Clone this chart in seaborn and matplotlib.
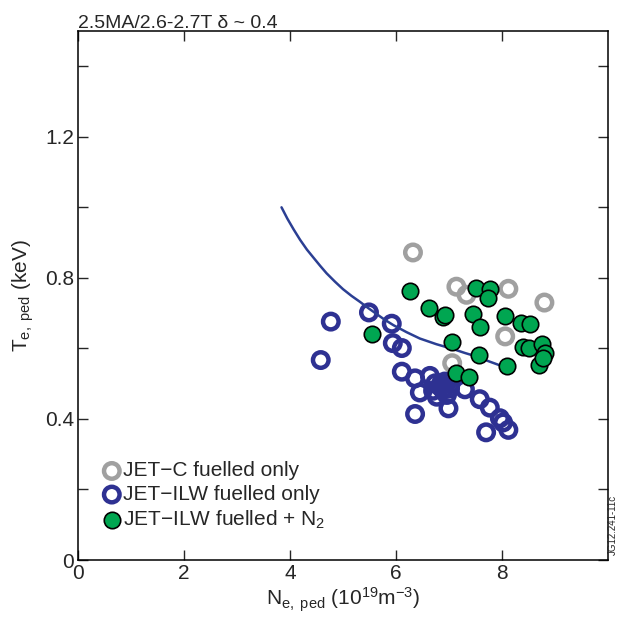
import numpy as np
import matplotlib
matplotlib.use("Agg")
import matplotlib.pyplot as plt
import pandas as pd
import seaborn as sns

# Données (n_e,ped en 1e19 m^-3, T_e,ped en keV)
c_ne = [6.32, 7.14, 7.33, 8.12, 8.80, 8.06, 7.06]
c_te = [0.872, 0.775, 0.752, 0.769, 0.730, 0.634, 0.558]

ilw_ne = [4.58, 4.77, 5.49, 5.92, 5.94, 6.11, 6.11, 6.36, 6.45, 6.36,
          6.64, 6.74, 6.83, 6.92, 7.02, 6.77, 6.96, 6.89, 6.70, 6.99,
          7.30, 7.58, 7.77, 7.96, 8.12, 7.70, 8.02, 6.85, 6.95]
ilw_te = [0.567, 0.676, 0.702, 0.670, 0.615, 0.601, 0.534, 0.515, 0.475, 0.414,
          0.522, 0.501, 0.492, 0.506, 0.487, 0.463, 0.468, 0.482, 0.480, 0.430,
          0.484, 0.456, 0.432, 0.402, 0.369, 0.362, 0.390, 0.500, 0.500]

n2_ne = [6.26, 6.63, 6.89, 6.92, 7.50, 7.77, 7.74, 7.45, 7.58, 8.06,
         8.35, 8.53, 7.06, 7.57, 8.10, 7.14, 7.38, 5.55, 8.40, 8.50,
         8.75, 8.81, 8.70, 8.78]
n2_te = [0.763, 0.714, 0.690, 0.694, 0.771, 0.768, 0.742, 0.698, 0.662, 0.692,
         0.673, 0.669, 0.617, 0.582, 0.550, 0.530, 0.520, 0.641, 0.605, 0.601,
         0.612, 0.588, 0.553, 0.572]

# Courbe (points lus le long du trait)
fit_ne = [3.84, 3.95, 4.07, 4.19, 4.32, 4.45, 4.57, 4.69, 4.85, 5.00, 5.16, 5.32,
          5.47, 5.62, 5.78, 5.95, 6.20, 6.45, 6.76, 7.08, 7.30, 7.52, 7.74, 7.96]
fit_te = [1.000, 0.968, 0.937, 0.908, 0.880, 0.856, 0.834, 0.813, 0.789, 0.768,
          0.749, 0.732, 0.715, 0.699, 0.682, 0.666, 0.646, 0.628, 0.612, 0.598,
          0.587, 0.577, 0.564, 0.552]

x_ticks = [0, 2, 4, 6, 8]
y_ticks = [0, 0.2, 0.4, 0.6, 0.8, 1.0, 1.2, 1.4]
y_labels = ["0", "", "0.4", "", "0.8", "", "1.2", ""]

df_c = pd.DataFrame({"ne": c_ne, "te": c_te})
df_ilw = pd.DataFrame({"ne": ilw_ne, "te": ilw_te})
df_n2 = pd.DataFrame({"ne": n2_ne, "te": n2_te})
df_fit = pd.DataFrame({"ne": fit_ne, "te": fit_te})

sns.set_style("ticks")
plt.rcParams['font.family'] = ['Liberation Sans', 'DejaVu Sans']
plt.rcParams['mathtext.fontset'] = 'custom'
plt.rcParams['mathtext.rm'] = 'Liberation Sans'
plt.rcParams['mathtext.it'] = 'Liberation Sans:italic'

gris = '#a0a0a0'
bleu = '#2e3192'
vert = '#00a651'

fig = plt.figure(figsize=(6.2, 6.17), dpi=100)
ax = fig.add_axes([78/620, 57/617, 530/620, 529/617])

sns.scatterplot(data=df_c, x="ne", y="te", ax=ax, marker='o', s=125,
                facecolors='none', edgecolor=gris, linewidth=3.2,
                label="JET\u2212C fuelled only", zorder=2)
sns.scatterplot(data=df_ilw, x="ne", y="te", ax=ax, marker='o', s=125,
                facecolors='none', edgecolor=bleu, linewidth=3.2,
                label="JET\u2212ILW fuelled only", zorder=3)
sns.lineplot(data=df_fit, x="ne", y="te", ax=ax, color='#2b3f93', lw=1.8,
             sort=False, zorder=4)
sns.scatterplot(data=df_n2, x="ne", y="te", ax=ax, marker='o', s=140,
                color=vert, edgecolor='black', linewidth=1.2,
                label="JET\u2212ILW fuelled + N$_{\\mathregular{2}}$", zorder=5)

ax.set_xlim(0, 10)
ax.set_ylim(0, 1.5)
ax.set_xticks(x_ticks)
ax.set_xticklabels([str(v) for v in x_ticks])
ax.set_yticks(y_ticks)
ax.set_yticklabels(y_labels)
ax.tick_params(direction='in', length=7, width=1, labelsize=15,
               top=True, right=True, pad=3)
for sp in ax.spines.values():
    sp.set_visible(True)
    sp.set_linewidth(1.1)
    sp.set_color('black')

ax.set_xlabel("N$_{\\mathregular{e,\\ ped}}$ (10$^{\\mathregular{19}}$m$^{\\mathregular{-3}}$)",
              fontsize=15, labelpad=2)
ax.set_ylabel("T$_{\\mathregular{e,\\ ped}}$ (keV)", fontsize=15, labelpad=6)
ax.set_title("2.5MA/2.6-2.7T \u03b4 ~ 0.4", loc='left', fontsize=14, pad=2)

ax.legend(loc='lower left', bbox_to_anchor=(0.05, 0.055), frameon=False,
          fontsize=15, handlelength=0.7, handletextpad=0.2,
          labelspacing=0.22, borderaxespad=0, borderpad=0)

fig.text(613/620, 1 - 525/617, "JG12.241-11c", rotation=90, fontsize=7,
         ha='center', va='center')

plt.savefig("out.png", dpi=100)
